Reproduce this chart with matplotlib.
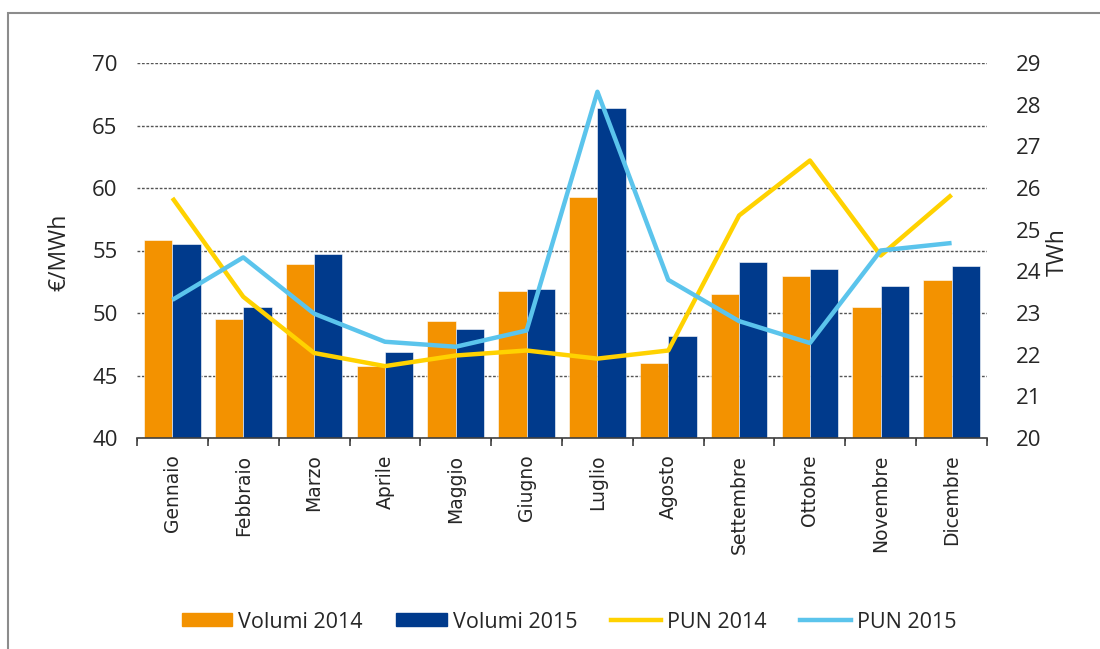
import matplotlib
matplotlib.use("Agg")
import matplotlib.pyplot as plt
from matplotlib.patches import Rectangle
from matplotlib.lines import Line2D
import numpy as np

months = ["Gennaio", "Febbraio", "Marzo", "Aprile", "Maggio", "Giugno",
          "Luglio", "Agosto", "Settembre", "Ottobre", "Novembre", "Dicembre"]
volumi_2014 = [24.75, 22.86, 24.18, 21.74, 22.80, 23.54, 25.79, 21.79, 23.45, 23.90, 23.14, 23.80]
volumi_2015 = [24.65, 23.14, 24.42, 22.07, 22.62, 23.58, 27.93, 22.44, 24.22, 24.06, 23.66, 24.14]
pun_2014 = [59.2, 51.3, 46.8, 45.75, 46.6, 47.0, 46.35, 47.0, 57.8, 62.2, 54.6, 59.45]
pun_2015 = [51.05, 54.45, 49.95, 47.7, 47.3, 48.6, 67.7, 52.65, 49.35, 47.6, 55.0, 55.6]
left_ticks = [40, 45, 50, 55, 60, 65, 70]
right_ticks = list(range(20, 30))

C_OR = "#F39200"
C_NAVY = "#003A8C"
C_YEL = "#FFD200"
C_LB = "#5BC4EC"
TXT = "#262626"

num_font = "Open Sans"
month_font = "DejaVu Sans"
leg_font = "Open Sans"

fig = plt.figure(figsize=(11, 6.49), dpi=100)
pos = [137/1100, 1-438/649, (987-137)/1100, (438-63)/649]

# frame around chart
fig.patches.append(Rectangle((8/1100, -0.1), 1.2, (649-13)/649 + 0.1,
                             transform=fig.transFigure, fill=False,
                             edgecolor="#8c8c8c", linewidth=1.5))

x = np.arange(len(months))

# grid axes
axG = fig.add_axes(pos, zorder=0)
axG.set_xlim(-0.5, len(months)-0.5)
axG.set_ylim(40, 70)
axG.set_yticks(left_ticks[1:])
axG.yaxis.grid(True, linestyle=(0, (2, 1.2)), color="#555555", linewidth=1.0)
axG.tick_params(left=False, labelleft=False, bottom=False, labelbottom=False)
for s in axG.spines.values():
    s.set_visible(False)

# bars axes (right)
axB = fig.add_axes(pos, zorder=1, sharex=axG)
axB.patch.set_visible(False)
w = 0.4
axB.bar(x - w/2, volumi_2014, width=w, color=C_OR, edgecolor="white", linewidth=0.4, label="Volumi 2014")
axB.bar(x + w/2, volumi_2015, width=w, color=C_NAVY, edgecolor="white", linewidth=0.4, label="Volumi 2015")
axB.set_ylim(20, 29)
axB.set_yticks(right_ticks)
axB.yaxis.tick_right()
axB.tick_params(axis="y", length=0, pad=21, labelsize=16, labelcolor=TXT)
for lab in axB.get_yticklabels():
    lab.set_fontfamily(num_font)
for s in ["top", "left", "right"]:
    axB.spines[s].set_visible(False)
axB.spines["bottom"].set_color("#404040")
axB.spines["bottom"].set_linewidth(1.2)
axB.set_xticks(x)
axB.set_xticklabels(months, rotation=90, fontsize=13.5, family=month_font, color=TXT, va="top")
axB.set_xticks(np.arange(-0.5, len(months)), minor=True)
axB.tick_params(axis="x", which="major", length=0, pad=12)
axB.tick_params(axis="x", which="minor", length=6, width=1.2, color="#404040", direction="out")

# lines axes (left)
axL = fig.add_axes(pos, zorder=2, sharex=axG, sharey=axG)
axL.patch.set_visible(False)
axL.plot(x, pun_2014, color=C_YEL, linewidth=3.2, solid_capstyle="butt", label="PUN 2014")
axL.plot(x, pun_2015, color=C_LB, linewidth=3.2, solid_capstyle="butt", label="PUN 2015")
axL.set_yticks(left_ticks)
axL.tick_params(axis="y", length=0, pad=14, labelsize=16, labelcolor=TXT, left=False, labelleft=True)
for lab in axL.get_yticklabels():
    lab.set_fontfamily(num_font)
axL.tick_params(axis="x", which="both", bottom=False, labelbottom=False)
for s in axL.spines.values():
    s.set_visible(False)

# axis titles
fig.text(59/1100, 1-252/649, "€/MWh", rotation=90, ha="center", va="center",
         fontsize=16.5, color=TXT, family=num_font)
fig.text(1058/1100, 1-252/649, "TWh", rotation=90, ha="center", va="center",
         fontsize=16.5, color=TXT, family=num_font)

handles = [Rectangle((0, 0), 1, 1, color=C_OR), Rectangle((0, 0), 1, 1, color=C_NAVY),
           Line2D([], [], color=C_YEL, linewidth=3.2), Line2D([], [], color=C_LB, linewidth=3.2)]
labels = ["Volumi 2014", "Volumi 2015", "PUN 2014", "PUN 2015"]
fig.legend(handles, labels, loc="center", bbox_to_anchor=(569/1100, 1-622/649), ncol=4,
           frameon=False, prop={"family": leg_font, "size": 15.5}, handlelength=2.35,
           handleheight=0.55, handletextpad=0.28, columnspacing=1.55, labelcolor=TXT)

fig.savefig("out.png", dpi=100, facecolor="white")
